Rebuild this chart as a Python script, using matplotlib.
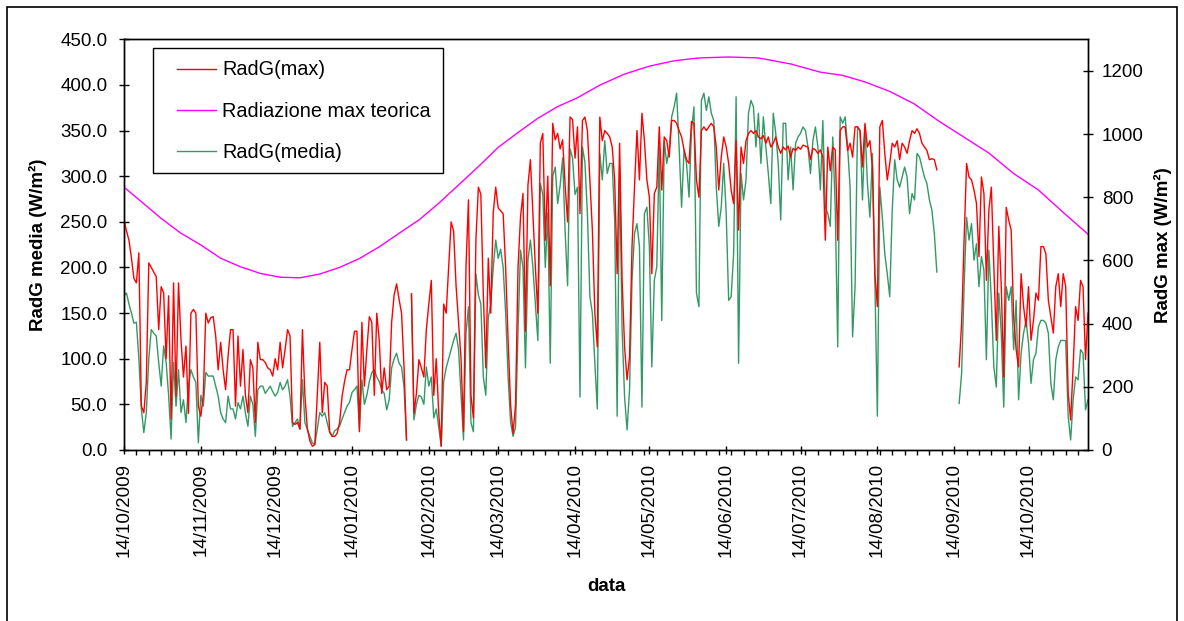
import numpy as np
import pandas as pd
import matplotlib
matplotlib.use('Agg')
import matplotlib.pyplot as plt
import matplotlib.dates as mdates
from matplotlib.patches import Rectangle
from matplotlib.lines import Line2D
from matplotlib.ticker import FormatStrFormatter, FixedLocator

nan = np.nan
inizio = '2009-10-14'

# RadG(max) giornaliera in W/m2 (asse destro), dal 14/10/2009
radg_max = [
    728, 693, 664, 607, 543, 529, 624, 139, 118, 214, 592, 578, 563, 549, 381, 517, 497, 289, 488, 98,
    529, 170, 529, 347, 231, 329, 116, 433, 445, 433, 139, 107, 173, 433, 402, 419, 422, 361, 254, 341,
    254, 191, 298, 381, 381, 139, 361, 202, 318, 173, 118, 286, 260, 87, 341, 286, 286, 277, 260, 254,
    234, 289,
    # dicembre - gennaio
    254, 341, 260, 318, 381, 361, 87, 81, 87, 66, 381, 173, 66, 29, 12, 17, 173, 341, 118, 214,
    202, 58, 43, 43, 52, 87, 170, 217, 254, 254, 318, 376, 376, 58, 404,
    202, 318, 422, 404, 173, 433, 347, 179, 260, 191, 202, 404, 491, 526, 477, 433, 263, 32, nan, 494,
    116, 179, 286, 260, 231, 381, 462,
    # febbraio - marzo
    537, 173, 289, 116, 12, 462, 433, 578, 722, 693, 520, 404, 289, 58, 578, 792, 173, 101, 664, 832,
    809, 491, 260, 607, 433, 751, 832, 766,
    757, 748, 578, 347, 144, 52, 144, 578, 737, 812, 376, 838, 919, 751, 578, 433, 971, 1002, 664, 867,
    520, 1034, 982, 1002, 953, 982, 838, 722, 1054, 1046, 924,
    # aprile - maggio
    1023, 748, 1043, 1054, 1011, 855, 696, 433, 326, 1054, 979, 1011, 1002, 991, 959, 855, 558, 971, 537, 326,
    222, 295, 644, 832, 1011, 855, 1066, 979, 855, 800,
    558, 812, 832, 1023, 823, 991, 979, 927, 1043, 1043, 1034, 1011, 991, 950, 919, 907, 1040, 1034, 855, 800,
    1011, 1023, 1011, 1023, 1034, 1023, 959, 823, 927, 991, 959,
    # giugno - luglio
    907, 823, 780, 979, 696, 959, 907, 979, 1002, 1011, 1002, 1011, 991, 985, 995, 971, 991, 959, 971, 991,
    959, 939, 959, 950, 962, 927, 955, 948, 959, 952,
    965, 962, 959, 919, 955, 950, 939, 950, 927, 664, 959, 884, 959, 950, 664, 1011, 1023,
    # agosto - settembre
    1023, 948, 971, 927, 1023, 1023, 1011, 896, 1034, 959, 979, 896, 558, 454, 1023, 1043, 939, 855, 907, 971,
    959, 979, 919, 971, 959, 939, 979, 1011, 1002, 1017, 1002, 971, 959, 948, 919, 922, 919, 887,
    nan, nan, nan, nan, nan, nan, nan, nan,
    263, 402, 664, 907, 864, 855, 823, 780, 612, 864, 812, 537, 760, 832, 581, 347, 708, 517, 231, 768,
    728, 696, 422, 318, 263, 558, 454, 390, 517, 347, 410, 497, 474, 644, 644, 621, 474, 422, 370, 517,
    558, 454, 558, 517, 179, 95, 263, 454, 410, 537, 517, 286, 433,
]

# RadG(media) giornaliera in W/m2 (asse sinistro)
radg_media = [
    169, 172, 160, 150, 139, 140, 100, 45, 19, 41, 100, 132, 128, 125, 96, 70, 114, 96, 60, 12,
    96, 48, 88, 41, 55, 30, 70, 88, 80, 74, 8, 60, 48, 85, 81, 81, 81, 70, 59, 41,
    34, 30, 59, 45, 45, 34, 52, 45, 59, 40, 26, 59, 50, 15, 66, 70, 70, 62, 66, 70,
    64, 59,
    63, 74, 66, 70, 77, 59, 26, 30, 34, 23, 77, 30, 23, 15, 8, 6, 23, 41, 37, 41,
    30, 19, 15, 21, 23, 26, 34, 41, 48, 52, 63, 66, 70, 23, 77,
    50, 60, 75, 85, 88, 80, 75, 66, 62, 44, 55, 90, 100, 106, 95, 91, 69, 11, nan, 171,
    33, 50, 60, 58, 50, 91, 70,
    80, 35, 45, 25, 4, 75, 90, 100, 110, 120, 128, 110, 60, 11, 128, 157, 30, 20, 193, 170,
    160, 80, 60, 145, 160, 200, 230, 210,
    220, 200, 150, 80, 30, 15, 25, 130, 219, 200, 90, 208, 230, 200, 160, 120, 292, 280, 200, 260,
    95, 300, 310, 270, 290, 320, 240, 180, 330, 320, 280,
    288, 58, 332, 315, 259, 168, 150, 95, 45, 325, 296, 339, 303, 314, 314, 252, 37, 310, 131, 58,
    22, 66, 186, 237, 248, 223, 47, 259, 266, 223,
    91, 186, 201, 332, 142, 339, 314, 329, 365, 376, 391, 332, 266, 329, 314, 277, 350, 376, 172, 157,
    383, 391, 372, 387, 369, 361, 288, 245, 266, 314, 259,
    164, 168, 215, 387, 95, 303, 274, 296, 369, 383, 376, 332, 369, 314, 365, 332, 303, 270, 369, 347,
    314, 252, 358, 358, 296, 332, 285, 336, 343, 347,
    354, 350, 332, 303, 339, 354, 332, 285, 361, 266, 259, 245, 343, 266, 113, 365, 358,
    365, 332, 288, 124, 179, 354, 350, 274, 354, 292, 255, 325, 186, 37, 288, 255, 215, 193, 168, 263,
    318, 296, 288, 299, 310, 299, 259, 281, 274, 325, 321, 310, 299, 292, 274, 263, 237, 195,
    nan, nan, nan, nan, nan, nan, nan, nan,
    51, 84, 179, 255, 230, 248, 208, 226, 179, 212, 197, 99, 219, 164, 91, 69, 172, 128, 47, 179,
    164, 179, 110, 164, 55, 106, 128, 142, 117, 73, 99, 106, 135, 142, 142, 139, 128, 73, 55, 99,
    113, 120, 120, 120, 37, 11, 55, 80, 77, 110, 106, 44, 55,
]

# Radiazione max teorica (W/m2), letta ogni ~10 giorni
teo_giorni = [0, 7, 15, 23, 31, 39, 47, 55, 63, 71, 79, 87, 95, 103, 111, 119, 127, 135, 143, 151,
              159, 167, 175, 183, 192, 202, 212, 222, 232, 244, 256, 269, 281, 290, 299, 309, 319, 329,
              339, 349, 359, 369, 379, 389]
teo_valori = [832, 786, 733, 686, 649, 607, 580, 559, 547, 545, 557, 578, 606, 643, 686, 728, 781, 839,
              897, 958, 1005, 1050, 1087, 1115, 1155, 1190, 1215, 1232, 1241, 1244, 1241, 1222, 1196,
              1186, 1165, 1135, 1095, 1040, 990, 940, 875, 823, 752, 683]

giorni = pd.date_range(inizio, periods=len(radg_max), freq='D')
giorni_teo = pd.Timestamp(inizio) + pd.to_timedelta(teo_giorni, unit='D')

plt.rcParams['font.family'] = ['Liberation Sans', 'DejaVu Sans']
fig = plt.figure(figsize=(11.84, 6.21), dpi=100)
ax = fig.add_axes([124/1184, 1 - 450/621, 964/1184, 410.7/621])
ax2 = ax.twinx()

rosso = '#FF0000'
magenta = '#FF00FF'
verde = '#339966'

ax.plot(giorni, radg_media, color=verde, lw=1.0)
ax2.plot(giorni, radg_max, color=rosso, lw=1.0)
ax2.plot(giorni_teo, teo_valori, color=magenta, lw=1.0)

ax.set_xlim(giorni[0], giorni[-1])
ax.set_ylim(0, 450)
ax2.set_ylim(0, 1300)
ax.set_yticks(np.arange(0, 451, 50))
ax2.set_yticks(np.arange(0, 1201, 200))
ax.yaxis.set_major_formatter(FormatStrFormatter('%.1f'))

ax.xaxis.set_major_locator(mdates.MonthLocator(bymonthday=14))
ax.xaxis.set_major_formatter(mdates.DateFormatter('%d/%m/%Y'))
minori = pd.date_range(inizio, giorni[-1], freq='5D')
ax.xaxis.set_minor_locator(FixedLocator(mdates.date2num(minori)))

ax.tick_params(axis='x', which='major', direction='inout', length=5.8, width=1, labelsize=13.5,
               labelrotation=90, pad=6.5)
ax.tick_params(axis='x', which='minor', direction='out', length=3.6, width=1)
ax.tick_params(axis='y', direction='inout', length=7.2, width=1, labelsize=13.5, pad=8.4)
ax2.tick_params(axis='y', direction='inout', length=7.2, width=1, labelsize=13.5, pad=6.3)

for a in (ax, ax2):
    for s in a.spines.values():
        s.set_linewidth(1.0)
        s.set_color('black')

ax.set_ylabel('RadG media (W/m²)', fontsize=13.5, fontweight='bold')
ax.yaxis.set_label_coords(-0.080, 0.5)
ax2.set_ylabel('RadG max (W/m²)', fontsize=13.5, fontweight='bold')
ax2.yaxis.set_label_coords(1.068, 0.5)
ax.set_xlabel('data', fontsize=13.5, fontweight='bold')
ax.xaxis.set_label_coords(0.5, -0.312)

# riquadro della legenda
x0 = (152.7 - 124) / 964
x1 = (442.7 - 124) / 964
y0 = (450 - 173) / 410.7
y1 = (450 - 48.3) / 410.7
ax2.add_patch(Rectangle((x0, y0), x1 - x0, y1 - y0, transform=ax2.transAxes,
                        facecolor='white', edgecolor='black', lw=1.0, zorder=5))
maniglie = [Line2D([], [], color=rosso, lw=1.0),
            Line2D([], [], color=magenta, lw=1.0),
            Line2D([], [], color=verde, lw=1.0)]
leg = ax2.legend(maniglie, ['RadG(max)', 'Radiazione max teorica', 'RadG(media)'],
                 loc='center left', bbox_to_anchor=((176.7 - 124) / 964, (450 - 111.2) / 410.7),
                 frameon=False, fontsize=14.3, handlelength=2.0, handletextpad=0.3,
                 labelspacing=1.12, borderpad=0, borderaxespad=0)
leg.set_zorder(6)

# bordo dell'area del grafico
fig.patches.append(Rectangle((7/1184, -0.02), 1170/1184, 1.02 - 7/621, transform=fig.transFigure,
                             fill=False, edgecolor='black', lw=1.2))

fig.savefig('out.png', dpi=100, facecolor='white')
